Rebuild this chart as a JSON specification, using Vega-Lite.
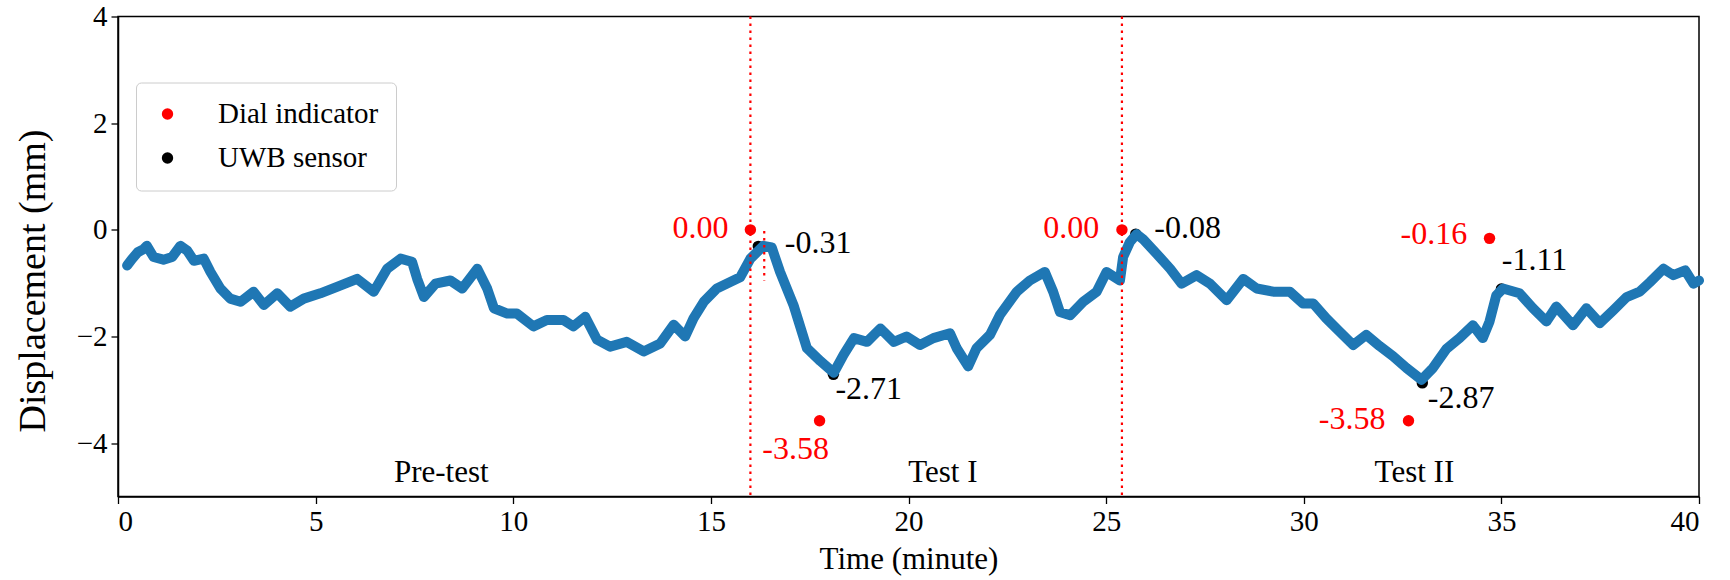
{
  "$schema": "https://vega.github.io/schema/vega-lite/v6.json",
  "width": 1581,
  "height": 480,
  "autosize": {"type": "none"},
  "padding": {"left": 118, "top": 16.5, "right": 31, "bottom": 83.5},
  "background": "white",
  "config": {
    "font": "Liberation Serif",
    "view": {"stroke": "black", "strokeWidth": 1.5},
    "axis": {"grid": false, "domainColor": "black", "domainWidth": 1.5, "tickColor": "black", "tickWidth": 1.3, "tickSize": 7, "labelFont": "Liberation Serif", "titleFont": "Liberation Serif", "labelColor": "black", "titleColor": "black", "labelFontSize": 29, "titleFontWeight": "normal"},
    "legend": {"title": null, "orient": "none", "legendX": 18, "legendY": 66, "padding": 17, "fillColor": "white", "strokeColor": "#cccccc", "cornerRadius": 5, "labelFontSize": 29, "labelFont": "Liberation Serif", "labelColor": "black", "labelLimit": 400, "symbolType": "circle", "symbolSize": 130, "symbolStrokeWidth": 0, "labelOffset": 36, "rowPadding": 14}
  },
  "datasets": {
    "uwb": [
      {"t": 0.23, "v": -0.67}, {"t": 0.35, "v": -0.55}, {"t": 0.5, "v": -0.42}, {"t": 0.65, "v": -0.36}, {"t": 0.73, "v": -0.3},
      {"t": 0.9, "v": -0.51}, {"t": 1.15, "v": -0.56}, {"t": 1.37, "v": -0.51}, {"t": 1.58, "v": -0.3}, {"t": 1.75, "v": -0.39},
      {"t": 1.92, "v": -0.58}, {"t": 2.17, "v": -0.54}, {"t": 2.34, "v": -0.79}, {"t": 2.59, "v": -1.1}, {"t": 2.84, "v": -1.29},
      {"t": 3.1, "v": -1.35}, {"t": 3.43, "v": -1.16}, {"t": 3.69, "v": -1.41}, {"t": 4.03, "v": -1.19}, {"t": 4.36, "v": -1.44},
      {"t": 4.7, "v": -1.29}, {"t": 5.12, "v": -1.19}, {"t": 5.54, "v": -1.07}, {"t": 6.05, "v": -0.92}, {"t": 6.47, "v": -1.16},
      {"t": 6.81, "v": -0.73}, {"t": 7.15, "v": -0.54}, {"t": 7.44, "v": -0.6}, {"t": 7.57, "v": -0.92}, {"t": 7.74, "v": -1.26},
      {"t": 8.03, "v": -1.01}, {"t": 8.41, "v": -0.95}, {"t": 8.71, "v": -1.1}, {"t": 9.09, "v": -0.73}, {"t": 9.34, "v": -1.1},
      {"t": 9.51, "v": -1.47}, {"t": 9.85, "v": -1.57}, {"t": 10.09, "v": -1.57}, {"t": 10.51, "v": -1.81}, {"t": 10.85, "v": -1.69},
      {"t": 11.27, "v": -1.69}, {"t": 11.52, "v": -1.81}, {"t": 11.82, "v": -1.63}, {"t": 12.12, "v": -2.06}, {"t": 12.45, "v": -2.19},
      {"t": 12.87, "v": -2.1}, {"t": 13.3, "v": -2.28}, {"t": 13.72, "v": -2.13}, {"t": 14.06, "v": -1.78}, {"t": 14.35, "v": -2.0},
      {"t": 14.56, "v": -1.66}, {"t": 14.82, "v": -1.35}, {"t": 15.15, "v": -1.1}, {"t": 15.49, "v": -0.98}, {"t": 15.74, "v": -0.89},
      {"t": 16.0, "v": -0.54}, {"t": 16.33, "v": -0.3}, {"t": 16.54, "v": -0.33}, {"t": 16.75, "v": -0.79}, {"t": 17.09, "v": -1.41},
      {"t": 17.43, "v": -2.22}, {"t": 17.77, "v": -2.46}, {"t": 18.11, "v": -2.68}, {"t": 18.36, "v": -2.34}, {"t": 18.62, "v": -2.03},
      {"t": 18.95, "v": -2.1}, {"t": 19.29, "v": -1.85}, {"t": 19.63, "v": -2.1}, {"t": 19.95, "v": -2.0}, {"t": 20.29, "v": -2.16},
      {"t": 20.63, "v": -2.03}, {"t": 21.05, "v": -1.94}, {"t": 21.22, "v": -2.22}, {"t": 21.51, "v": -2.56}, {"t": 21.72, "v": -2.22},
      {"t": 22.06, "v": -1.97}, {"t": 22.31, "v": -1.6}, {"t": 22.74, "v": -1.16}, {"t": 23.07, "v": -0.95}, {"t": 23.45, "v": -0.79},
      {"t": 23.66, "v": -1.16}, {"t": 23.83, "v": -1.54}, {"t": 24.09, "v": -1.6}, {"t": 24.42, "v": -1.35}, {"t": 24.76, "v": -1.16},
      {"t": 25.01, "v": -0.79}, {"t": 25.35, "v": -0.95}, {"t": 25.43, "v": -0.51}, {"t": 25.6, "v": -0.23}, {"t": 25.77, "v": -0.08},
      {"t": 25.94, "v": -0.18}, {"t": 26.28, "v": -0.45}, {"t": 26.62, "v": -0.73}, {"t": 26.91, "v": -1.01}, {"t": 27.29, "v": -0.85},
      {"t": 27.63, "v": -1.01}, {"t": 28.05, "v": -1.32}, {"t": 28.47, "v": -0.92}, {"t": 28.81, "v": -1.1}, {"t": 29.23, "v": -1.16},
      {"t": 29.65, "v": -1.16}, {"t": 29.98, "v": -1.38}, {"t": 30.24, "v": -1.38}, {"t": 30.57, "v": -1.66}, {"t": 30.91, "v": -1.91},
      {"t": 31.25, "v": -2.16}, {"t": 31.58, "v": -1.97}, {"t": 31.92, "v": -2.18}, {"t": 32.26, "v": -2.37}, {"t": 32.6, "v": -2.59},
      {"t": 32.98, "v": -2.81}, {"t": 33.27, "v": -2.59}, {"t": 33.61, "v": -2.23}, {"t": 33.94, "v": -2.03}, {"t": 34.28, "v": -1.79},
      {"t": 34.53, "v": -2.03}, {"t": 34.7, "v": -1.72}, {"t": 34.87, "v": -1.23}, {"t": 35.04, "v": -1.1}, {"t": 35.46, "v": -1.19},
      {"t": 35.8, "v": -1.47}, {"t": 36.14, "v": -1.72}, {"t": 36.39, "v": -1.44}, {"t": 36.81, "v": -1.79}, {"t": 37.15, "v": -1.47},
      {"t": 37.49, "v": -1.75}, {"t": 37.83, "v": -1.51}, {"t": 38.17, "v": -1.26}, {"t": 38.5, "v": -1.16}, {"t": 38.76, "v": -0.98},
      {"t": 39.1, "v": -0.73}, {"t": 39.35, "v": -0.85}, {"t": 39.65, "v": -0.76}, {"t": 39.86, "v": -1.01}, {"t": 40.0, "v": -0.95}
    ],
    "points": [
      {"t": 16.0, "v": 0.0, "series": "Dial indicator"},
      {"t": 17.75, "v": -3.58, "series": "Dial indicator"},
      {"t": 25.4, "v": 0.0, "series": "Dial indicator"},
      {"t": 32.65, "v": -3.58, "series": "Dial indicator"},
      {"t": 34.7, "v": -0.16, "series": "Dial indicator"},
      {"t": 16.2, "v": -0.31, "series": "UWB sensor"},
      {"t": 18.1, "v": -2.71, "series": "UWB sensor"},
      {"t": 25.75, "v": -0.08, "series": "UWB sensor"},
      {"t": 33.0, "v": -2.87, "series": "UWB sensor"},
      {"t": 35.0, "v": -1.11, "series": "UWB sensor"}
    ],
    "labels": [
      {"t": 14.03, "v": 0.04, "text": "0.00", "series": "Dial indicator"},
      {"t": 16.3, "v": -4.1, "text": "-3.58", "series": "Dial indicator"},
      {"t": 23.41, "v": 0.04, "text": "0.00", "series": "Dial indicator"},
      {"t": 30.38, "v": -3.55, "text": "-3.58", "series": "Dial indicator"},
      {"t": 32.45, "v": -0.08, "text": "-0.16", "series": "Dial indicator"},
      {"t": 16.87, "v": -0.25, "text": "-0.31", "series": "UWB sensor"},
      {"t": 18.15, "v": -2.99, "text": "-2.71", "series": "UWB sensor"},
      {"t": 26.22, "v": 0.04, "text": "-0.08", "series": "UWB sensor"},
      {"t": 33.14, "v": -3.15, "text": "-2.87", "series": "UWB sensor"},
      {"t": 35.01, "v": -0.56, "text": "-1.11", "series": "UWB sensor"}
    ],
    "phases": [
      {"t": 8.18, "v": -4.56, "text": "Pre-test"},
      {"t": 20.87, "v": -4.56, "text": "Test I"},
      {"t": 32.8, "v": -4.56, "text": "Test II"}
    ],
    "splits": [{"t": 16.0}, {"t": 25.4}],
    "stub": [{"t": 16.35, "v1": -0.02, "v2": -0.95}]
  },
  "encoding": {
    "x": {"field": "t", "type": "quantitative", "scale": {"domain": [0, 40], "nice": false, "zero": false},
      "axis": {"values": [0, 5, 10, 15, 20, 25, 30, 35, 40], "title": "Time (minute)", "titleFontSize": 31, "labelPadding": 4, "titleY": 72, "titleBaseline": "alphabetic"}},
    "y": {"field": "v", "type": "quantitative", "scale": {"domain": [-5, 4], "nice": false, "zero": false},
      "axis": {"values": [-4, -2, 0, 2, 4], "title": "Displacement (mm)", "titleFontSize": 38, "labelPadding": 4, "titleX": -85, "titleY": 264, "titleBaseline": "middle"}}
  },
  "layer": [
    {
      "data": {"name": "points"},
      "transform": [{"filter": "datum.series === 'UWB sensor'"}],
      "mark": {"type": "point", "filled": true, "shape": "circle", "size": 130, "opacity": 1},
      "encoding": {"color": {"field": "series", "type": "nominal", "scale": {"domain": ["Dial indicator", "UWB sensor"], "range": ["#ff0000", "#000000"]},
        "legend": {"title": null, "orient": "none", "legendX": 18, "legendY": 66, "padding": 17, "labelFont": "Liberation Serif", "labelFontSize": 29, "labelLimit": 400, "labelOffset": 36}}}
    },
    {
      "data": {"name": "uwb"},
      "mark": {"type": "line", "color": "#1f77b4", "strokeWidth": 10, "strokeJoin": "round", "strokeCap": "round"},
      "encoding": {}
    },
    {
      "data": {"name": "points"},
      "mark": {"type": "point", "filled": true, "shape": "circle", "size": 130, "opacity": 1},
      "transform": [{"filter": "datum.series === 'Dial indicator'"}],
      "encoding": {"color": {"field": "series", "type": "nominal", "scale": {"domain": ["Dial indicator", "UWB sensor"], "range": ["#ff0000", "#000000"]}}}
    },
    {
      "data": {"name": "splits"},
      "mark": {"type": "rule", "color": "#ff0000", "strokeWidth": 2.2, "strokeDash": [2.5, 4.5]},
      "encoding": {"x": {"field": "t", "type": "quantitative"}, "y": null}
    },
    {
      "data": {"name": "stub"},
      "mark": {"type": "rule", "color": "#ff0000", "strokeWidth": 2.2, "strokeDash": [2.5, 4.5]},
      "encoding": {"y": {"field": "v1", "type": "quantitative"}, "y2": {"field": "v2"}}
    },
    {
      "data": {"name": "labels"},
      "mark": {"type": "text", "align": "left", "baseline": "middle", "fontSize": 32, "font": "Liberation Serif"},
      "encoding": {"text": {"field": "text"}, "color": {"field": "series", "type": "nominal"}}
    },
    {
      "data": {"name": "phases"},
      "mark": {"type": "text", "align": "center", "baseline": "middle", "fontSize": 31, "font": "Liberation Serif", "color": "black"},
      "encoding": {"text": {"field": "text"}}
    }
  ]
}
